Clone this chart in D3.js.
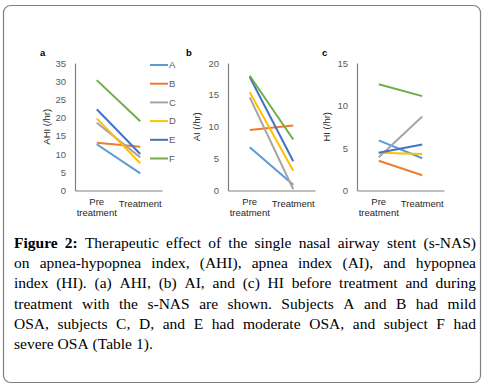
<!DOCTYPE html>
<html><head><meta charset="utf-8">
<script src="https://cdn.jsdelivr.net/npm/d3@7"></script>
<style>body{margin:0;background:#fff;}svg{display:block;}</style>
</head><body>
<svg id="c" width="484" height="387"></svg>
<script>
const subjects = ["A","B","C","D","E","F"];
const colors = ["#5B9BD5","#ED7D31","#A5A5A5","#FFC000","#4472C4","#70AD47"];
const phases = ["Pre treatment","Treatment"];
const ahiPre  = [12.7,13.1,18.6,19.8,22.3,30.3];
const ahiPost = [4.7,12.0,9.1,7.5,10.0,19.0];
const aiPre   = [6.8,9.5,14.6,15.4,17.8,18.0];
const aiPost  = [0.9,10.2,0.2,3.1,4.6,8.0];
const hiPre   = [5.9,3.5,3.9,4.45,4.45,12.5];
const hiPost  = [3.8,1.8,8.7,4.3,5.4,11.1];
const ahiTicks = [0,5,10,15,20,25,30,35];
const aiTicks = [0,5,10,15,20];
const hiTicks = [0,5,10,15];
const captionBold = "Figure 2:";
const captionLines = [
 "Figure 2: Therapeutic effect of the single nasal airway stent (s-NAS)",
 "on apnea-hypopnea index, (AHI), apnea index (AI), and hypopnea",
 "index (HI). (a) AHI, (b) AI, and (c) HI before treatment and during",
 "treatment with the s-NAS are shown. Subjects A and B had mild",
 "OSA, subjects C, D, and E had moderate OSA, and subject F had",
 "severe OSA (Table 1)."
];

const svg = d3.select("#c");
svg.append("rect").attr("x",3.5).attr("y",5.5).attr("width",477).attr("height",377)
  .attr("rx",7).attr("fill","#fff").attr("stroke","#7f7f7f").attr("stroke-width",1.2);

const panels = [
  {letter:"a", title:"AHI (/hr)", pre:ahiPre, post:ahiPost, ticks:ahiTicks, max:35, x0:75, letterX:40, titleX:47},
  {letter:"b", title:"AI (/hr)", pre:aiPre, post:aiPost, ticks:aiTicks, max:20, x0:228, letterX:186, titleX:197},
  {letter:"c", title:"HI (/hr)", pre:hiPre, post:hiPost, ticks:hiTicks, max:15, x0:357, letterX:322, titleX:327}
];
const yTop = 63, yBot = 190.5, plotW = 87;
const font = "Liberation Sans, Arial, sans-serif";
const fs = 9.5;

panels.forEach(p => {
  const x = d3.scaleBand().domain(phases).range([p.x0, p.x0+plotW]).padding(0);
  const y = d3.scaleLinear().domain([0,p.max]).range([yBot,yTop]);
  const g = svg.append("g");
  const ya = g.append("g").attr("transform",`translate(${p.x0},0)`)
    .call(d3.axisLeft(y).tickValues(p.ticks).tickSize(0).tickPadding(9));
  ya.select(".domain").attr("stroke","#808080").attr("stroke-width",1.2);
  ya.selectAll("text").attr("font-family",font).attr("font-size",fs).attr("fill","#595959");
  const xa = g.append("g").attr("transform",`translate(0,${yBot})`)
    .call(d3.axisBottom(x).tickSize(0).tickFormat(""));
  xa.select(".domain").attr("stroke","#808080").attr("stroke-width",1.2);
  g.append("text").attr("x",x(phases[0])+x.bandwidth()/2).attr("y",205)
    .attr("text-anchor","middle").attr("font-family",font).attr("font-size",fs).attr("fill","#262626")
    .selectAll("tspan").data(["Pre","treatment"]).join("tspan")
    .attr("x",x(phases[0])+x.bandwidth()/2).attr("dy",(d,i)=>i?11:0).text(d=>d);
  g.append("text").attr("x",x(phases[1])+x.bandwidth()/2).attr("y",207)
    .attr("text-anchor","middle").attr("font-family",font).attr("font-size",fs).attr("fill","#262626")
    .text(phases[1]);
  subjects.forEach((s,i)=>{
    g.append("line")
      .attr("x1",x(phases[0])+x.bandwidth()/2).attr("y1",y(p.pre[i]))
      .attr("x2",x(phases[1])+x.bandwidth()/2).attr("y2",y(p.post[i]))
      .attr("stroke",colors[i]).attr("stroke-width",2);
  });
  g.append("text").attr("transform",`translate(${p.titleX},${(yTop+yBot)/2}) rotate(-90)`)
    .attr("text-anchor","middle").attr("dy","0.35em").attr("font-family",font)
    .attr("font-size",fs).attr("fill","#262626").text(p.title);
  g.append("text").attr("x",p.letterX).attr("y",56).attr("font-family",font)
    .attr("font-size",9.5).attr("font-weight","bold").attr("fill","#000").text(p.letter);
});

const leg = svg.append("g");
subjects.forEach((s,i)=>{
  const yy = 65 + i*18.7;
  leg.append("line").attr("x1",150).attr("x2",168).attr("y1",yy).attr("y2",yy)
    .attr("stroke",colors[i]).attr("stroke-width",2);
  leg.append("text").attr("x",169).attr("y",yy).attr("dy","0.35em")
    .attr("font-family",font).attr("font-size",fs).attr("fill","#595959").text(s);
});

const cap = svg.append("g");
const left = 14, right = 476, baseY = 248, lh = 20.2;
captionLines.forEach((line, li) => {
  const words = line.split(" ");
  const boldWords = li===0 ? captionBold.split(" ").length : 0;
  const nodes = words.map((w,wi)=> cap.append("text")
      .attr("y", baseY + li*lh)
      .attr("font-family","Liberation Serif, Times New Roman, serif")
      .attr("font-size",15.5).attr("fill","#000")
      .attr("font-weight", wi<boldWords ? "bold":"normal").text(w));
  const widths = nodes.map(n=>n.node().getComputedTextLength());
  const total = d3.sum(widths);
  const last = li===captionLines.length-1;
  const gap = last ? 4 : (right-left-total)/(words.length-1);
  let cx = left;
  nodes.forEach((n,k)=>{ n.attr("x",cx); cx += widths[k]+gap; });
});
</script>
</body></html>
